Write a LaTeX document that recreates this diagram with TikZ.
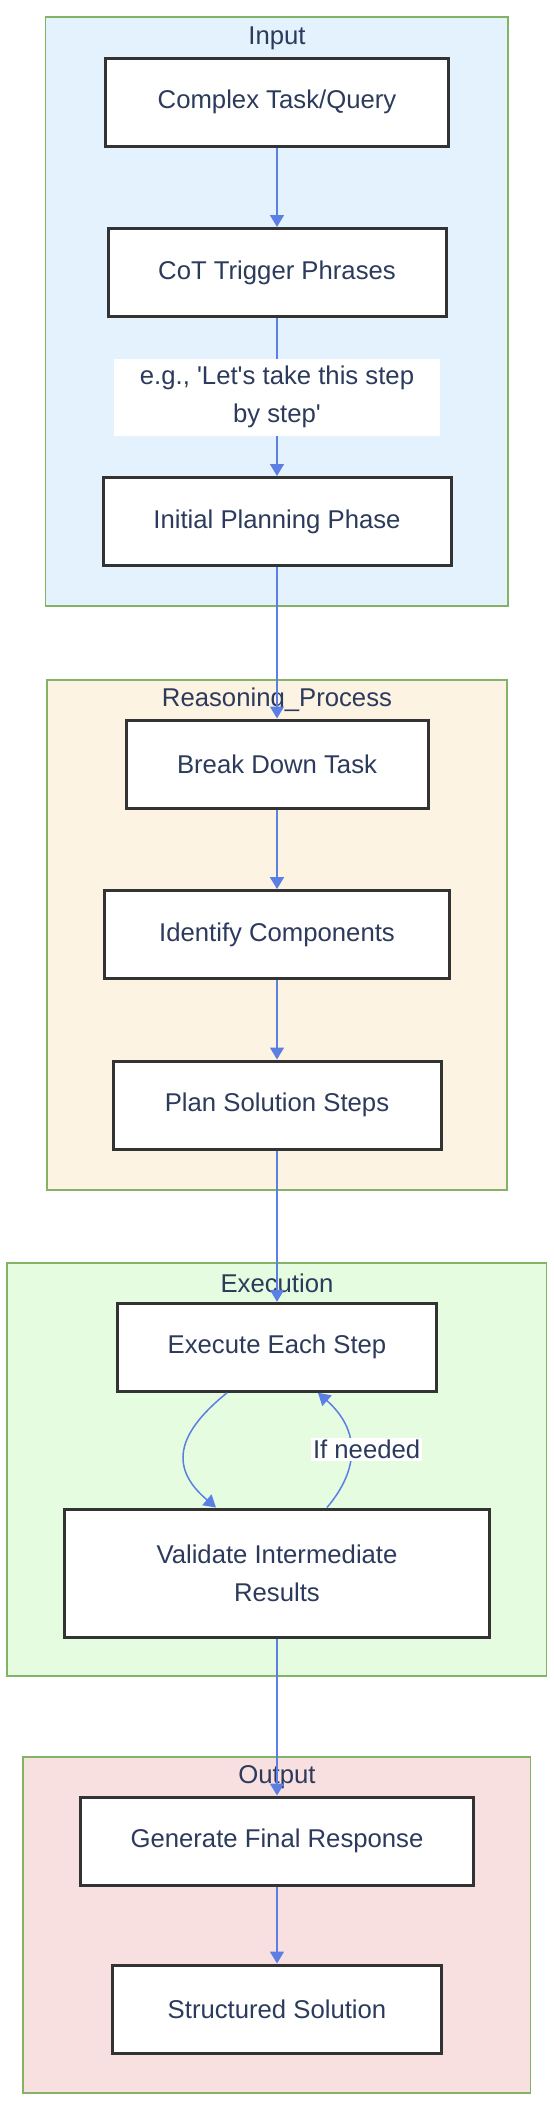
\documentclass[tikz,border=0pt]{standalone}
\usepackage{fontspec}
\setmainfont{Liberation Sans}[Ligatures=TeXOff]
\usetikzlibrary{arrows.meta}
\definecolor{txt}{HTML}{2C3A5C}
\definecolor{nodeborder}{HTML}{333333}
\definecolor{clborder}{HTML}{82B366}
\definecolor{arrowc}{HTML}{5B7FE3}
\definecolor{fillin}{HTML}{E3F2FD}
\definecolor{fillreas}{HTML}{FDF3E2}
\definecolor{fillexec}{HTML}{E5FCE1}
\definecolor{fillout}{HTML}{F9E0E0}
\newcommand{\dfont}{\fontsize{25.7}{38}\selectfont}
\begin{document}
\begin{tikzpicture}[x=1pt,y=-1pt,
  cluster/.style={draw=clborder, line width=1.5pt},
  box/.style={draw=nodeborder, line width=3pt, fill=white, minimum height=88pt,
    inner sep=0pt, text=txt, font=\dfont, align=center},
  ttl/.style={text=txt, font=\dfont, inner sep=0pt},
  edge/.style={draw=arrowc, line width=1.5pt, -{Triangle[length=12pt,width=14pt]}},
  elabel/.style={fill=white, text=txt, font=\dfont, inner sep=2pt, align=center}
]
\useasboundingbox (0,0) rectangle (554,2112);
\fill[white] (0,0) rectangle (554,2112);

% clusters
\draw[cluster, fill=fillin]   (45.7,16.8)  rectangle (507.9,606);
\draw[cluster, fill=fillreas] (47.1,680)   rectangle (506.8,1190);
\draw[cluster, fill=fillexec] (7.1,1263)   rectangle (546.4,1676);
\draw[cluster, fill=fillout]  (23.2,1757)  rectangle (530.4,2093);

\node[ttl] (tin)   at (277,38)   {Input};
\node[ttl] (treas) at (277,700)  {Reasoning\_Process};
\node[ttl] (texec) at (277,1283) {Execution};
\node[ttl] (tout)  at (277,1777) {Output};

% nodes
\node[box, minimum width=343pt] (complex) at (277,102)   {Complex Task/Query};
\node[box, minimum width=338pt] (cot)     at (277,272.5) {CoT Trigger Phrases};
\node[box, minimum width=348pt] (initial) at (277,521.5) {Initial Planning Phase};
\node[box, minimum width=302pt] (break)   at (277,764)   {Break Down Task};
\node[box, minimum width=345pt] (ident)   at (277,934.6) {Identify Components};
\node[box, minimum width=328pt] (plan)    at (277,1105)  {Plan Solution Steps};
\node[box, minimum width=319pt] (exec)    at (277,1347.3) {Execute Each Step};
\node[box, minimum width=425pt, minimum height=128pt] (val) at (277,1573) {Validate Intermediate\\Results};
\node[box, minimum width=393pt] (gen)     at (277,1841)  {Generate Final Response};
\node[box, minimum width=329pt] (struct)  at (277,2009)  {Structured Solution};

% edges
\draw[edge] (complex) -- (cot);
\draw[edge] (cot) -- node[elabel, minimum width=326pt, minimum height=77pt] (lbla)
  {e.g., 'Let's take this step\\by step'} (initial);
\draw[edge] (initial) -- (break);
\draw[edge] (break) -- (ident);
\draw[edge] (ident) -- (plan);
\draw[edge] (plan) -- (exec);
\draw[edge] ([xshift=-50pt]exec.south) .. controls +(-52,42) and +(-46,-39) .. ([xshift=-61pt]val.north);
\draw[edge] ([xshift=50pt]val.north) .. controls +(33,-39) and +(42,37) ..
  node[elabel, pos=0.5, xshift=16pt] (lblb) {If needed} ([xshift=41pt]exec.south);
\draw[edge] (val) -- (gen);
\draw[edge] (gen) -- (struct);
\end{tikzpicture}
\end{document}
